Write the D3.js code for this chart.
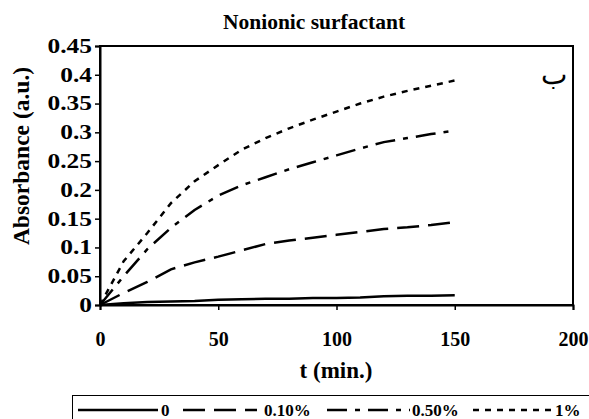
<!DOCTYPE html>
<html><head><meta charset="utf-8">
<script src="https://cdn.jsdelivr.net/npm/d3@7"></script>
<style>body{margin:0;background:#fff}</style>
</head><body><svg id="c" width="589" height="419"></svg>
<script>
const times = [0,10,20,30,40,50,60,70,80,90,100,110,120,130,140,150];
const s0   = [0,0.003,0.005,0.006,0.007,0.009,0.010,0.011,0.011,0.012,0.012,0.013,0.015,0.016,0.016,0.017];
const s010 = [0,0.021,0.040,0.062,0.074,0.084,0.095,0.106,0.112,0.117,0.122,0.127,0.132,0.135,0.139,0.144];
const s050 = [0,0.050,0.097,0.134,0.165,0.190,0.208,0.222,0.236,0.248,0.260,0.272,0.283,0.290,0.297,0.303];
const s1   = [0,0.076,0.125,0.177,0.215,0.243,0.270,0.290,0.307,0.322,0.336,0.350,0.362,0.372,0.381,0.390];
const seriesNames = ["0","0.10%","0.50%","1%"];
const xTicks = [0,50,100,150,200];
const yTicks = [0,0.05,0.1,0.15,0.2,0.25,0.3,0.35,0.4,0.45];
const dashes = [null,"22,9","20,8,5,8","6,6"];
const allSeries = [s0,s010,s050,s1];
const FF = "Liberation Serif";

const svg = d3.select("#c");
const L=100,R=573,T=46,B=305;
const x = d3.scaleLinear().domain([0,200]).range([L,R]);
const y = d3.scaleLinear().domain([0,0.45]).range([B,T]);

svg.append("rect").attr("x",L).attr("y",T).attr("width",R-L).attr("height",B-T)
  .attr("fill","none").attr("stroke","#000").attr("stroke-width",2);

const ya = svg.append("g").attr("transform",`translate(${L},0)`)
  .call(d3.axisLeft(y).tickValues(yTicks).tickFormat(d=>String(+d.toFixed(2))).tickSize(5).tickPadding(4));
const xa = svg.append("g").attr("transform",`translate(0,${B})`)
  .call(d3.axisBottom(x).tickValues(xTicks).tickFormat(d=>d).tickSize(5).tickPadding(22));
[ya,xa].forEach(g=>{
  g.attr("font-family",FF).attr("font-size",20).attr("font-weight","bold");
  g.select(".domain").attr("stroke-width",2);
  g.selectAll(".tick line").attr("stroke-width",1.5);
  g.selectAll("text").attr("font-family",FF).attr("font-weight","bold").attr("font-size",20).attr("fill","#000");
});
ya.selectAll(".tick text").attr("x",0).attr("transform","translate(-8,0) scale(1.27,1)");

const line = d3.line().x((d,i)=>x(times[i])).y(d=>y(d));
allSeries.forEach((s,k)=>{
  svg.append("path").datum(s).attr("d",line).attr("fill","none").attr("stroke","#000")
    .attr("stroke-width",2.5).attr("stroke-dasharray",dashes[k]);
});

function txt(){ return svg.append("text").attr("font-family",FF).attr("font-weight","bold").attr("fill","#000"); }
txt().attr("x",314).attr("y",29).attr("text-anchor","middle").attr("font-size",21.5).text("Nonionic surfactant");
txt().attr("x",336).attr("y",378).attr("text-anchor","middle").attr("font-size",23).text("t (min.)");
txt().attr("transform","translate(29,156) rotate(-90)").attr("text-anchor","middle").attr("font-size",23.5).text("Absorbance (a.u.)");
txt().attr("x",554).attr("y",84).attr("text-anchor","middle").attr("font-size",28).attr("font-weight","normal").text("ب");

// legend
svg.append("rect").attr("x",72.5).attr("y",395.5).attr("width",530).attr("height",40).attr("fill","none").attr("stroke","#000").attr("stroke-width",1);
const lx = [[78,158,161],[183,257,264],[327,410,412],[473,552,555]];
seriesNames.forEach((n,k)=>{
  svg.append("line").attr("x1",lx[k][0]).attr("x2",lx[k][1]).attr("y1",410).attr("y2",410)
    .attr("stroke","#000").attr("stroke-width",2.5).attr("stroke-dasharray",dashes[k]);
  txt().attr("x",lx[k][2]).attr("y",416).attr("font-size",17).text(n);
});
</script></body></html>
